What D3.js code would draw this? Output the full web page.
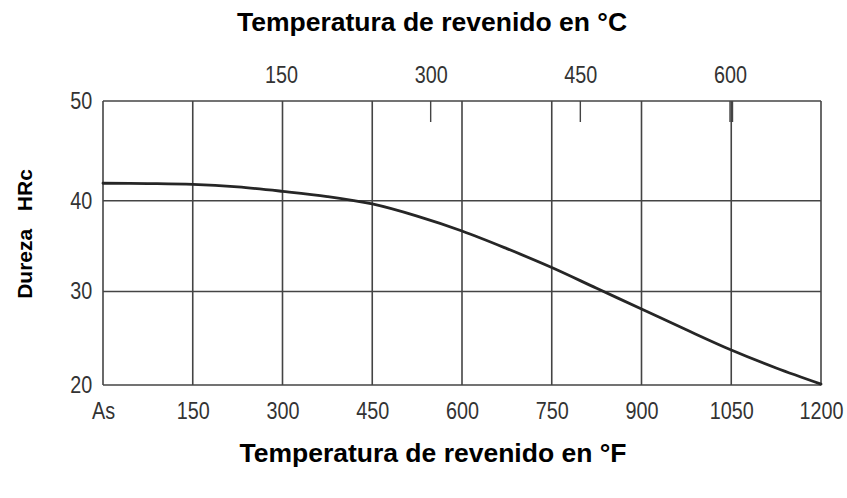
<!DOCTYPE html>
<html>
<head>
<meta charset="utf-8">
<script src="https://cdn.jsdelivr.net/npm/d3@7/dist/d3.min.js"></script>
<style>
  html, body { margin: 0; padding: 0; background: #fff; }
  svg { display: block; }
</style>
</head>
<body>
<svg id="chart" width="847" height="498"></svg>
<script>
// ---- Data ----
const tempF = [0, 75, 150, 225, 300, 375, 450, 525, 600, 675, 750, 825, 900, 975, 1050, 1125, 1200];
const hardness = [41.75, 41.72, 41.64, 41.38, 40.94, 40.42, 39.64, 38.3, 36.66, 34.72, 32.64, 30.35, 28.13, 25.9, 23.74, 21.82, 20.1];
const fTicks = [0, 150, 300, 450, 600, 750, 900, 1050, 1200];
const fTickLabels = ["As", "150", "300", "450", "600", "750", "900", "1050", "1200"];
const cTicks = [150, 300, 450, 600];
const cTickMarks = [300, 450, 600];
const yTicks = [20, 30, 40, 50];
const titleTop = "Temperatura de revenido en °C";
const titleBottom = "Temperatura de revenido en °F";
const titleY = "Dureza  HRc";

// ---- Scales ----
const svg = d3.select("#chart");
const x = d3.scaleLinear().domain([0, 1200]).range([103, 821]);
const y = d3.scaleLinear().domain([20, 30, 40, 50]).range([385, 291.5, 200.7, 101]);
const xC = d3.scaleLinear().domain([150, 600]).range([281, 730]);

const gridColor = "#444";
const labelFont = "'Liberation Sans', Arial, sans-serif";

// grid
const grid = svg.append("g");
grid.selectAll("line.v").data(fTicks).enter().append("line")
  .attr("x1", d => x(d)).attr("x2", d => x(d))
  .attr("y1", y(50)).attr("y2", y(20))
  .attr("stroke", gridColor).attr("stroke-width", 1.6);
grid.selectAll("line.h").data(yTicks).enter().append("line")
  .attr("x1", x(0)).attr("x2", x(1200))
  .attr("y1", d => y(d)).attr("y2", d => y(d))
  .attr("stroke", gridColor).attr("stroke-width", 1.6);

// top Celsius tick marks
const marks = svg.append("g");
marks.selectAll("line").data(cTickMarks).enter().append("line")
  .attr("x1", d => xC(d)).attr("x2", d => xC(d))
  .attr("y1", y(50)).attr("y2", y(50) + 21)
  .attr("stroke", gridColor).attr("stroke-width", 1.4);
marks.append("line")
  .attr("x1", xC(600) + 2.5).attr("x2", xC(600) + 2.5)
  .attr("y1", y(50)).attr("y2", y(50) + 21)
  .attr("stroke", gridColor).attr("stroke-width", 1.4);

// axes (labels only)
function styleAxis(g) {
  g.select(".domain").remove();
  g.selectAll(".tick line").remove();
  g.selectAll("text")
    .attr("font-family", labelFont)
    .attr("font-size", 23)
    .attr("fill", "#333")
    .attr("transform", "scale(0.86,1)");
}
svg.append("g").attr("transform", `translate(0,${y(20)})`)
  .call(d3.axisBottom(x).tickValues(fTicks).tickSize(0).tickPadding(18)
    .tickFormat((d, i) => fTickLabels[i]))
  .call(styleAxis);
svg.append("g").attr("transform", `translate(0,${y(50)})`)
  .call(d3.axisTop(xC).tickValues(cTicks).tickSize(0).tickPadding(18)
    .tickFormat(d3.format("d")))
  .call(styleAxis);
svg.append("g").attr("transform", `translate(${x(0)},0)`)
  .call(d3.axisLeft(y).tickValues(yTicks).tickSize(0).tickPadding(12.5)
    .tickFormat(d3.format("d")))
  .call(styleAxis);

// curve
const line = d3.line()
  .x((d, i) => x(tempF[i]))
  .y(d => y(d))
  .curve(d3.curveCatmullRom.alpha(0.5));
svg.append("path")
  .datum(hardness)
  .attr("d", line)
  .attr("fill", "none")
  .attr("stroke", "#262626")
  .attr("stroke-width", 2.8)
  .attr("stroke-linecap", "round");

// titles
const titleFont = "'Liberation Sans', Arial, sans-serif";
svg.append("text")
  .attr("x", 432).attr("y", 31)
  .attr("text-anchor", "middle")
  .attr("font-family", titleFont)
  .attr("font-weight", "bold").attr("font-size", 26.5)
  .text(titleTop);
svg.append("text")
  .attr("x", 433).attr("y", 462)
  .attr("text-anchor", "middle")
  .attr("font-family", titleFont)
  .attr("font-weight", "bold").attr("font-size", 26.5)
  .text(titleBottom);
svg.append("text")
  .attr("transform", "translate(32,234) rotate(-90)")
  .attr("text-anchor", "middle")
  .attr("font-family", titleFont)
  .attr("font-weight", "bold").attr("font-size", 21)
  .attr("word-spacing", 3)
  .style("white-space", "pre")
  .text(titleY);
</script>
</body>
</html>
